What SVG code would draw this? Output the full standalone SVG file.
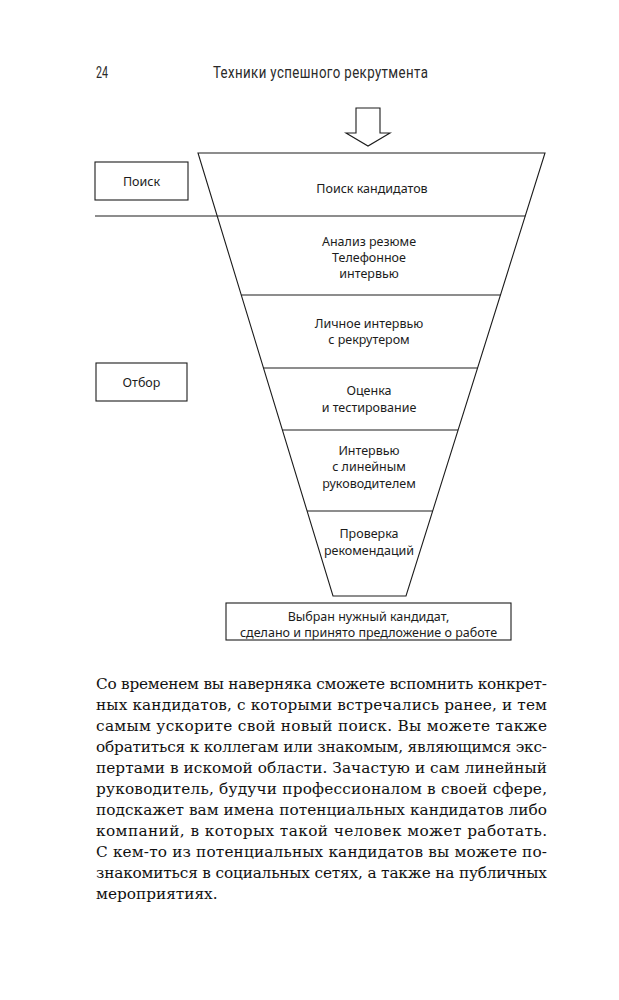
<svg xmlns="http://www.w3.org/2000/svg" width="619" height="1000" viewBox="0 0 619 1000">
<style>
.ln{fill:none;stroke:#1c1c1c;stroke-width:1.1}
.bx{fill:#fff;stroke:#1c1c1c;stroke-width:1.1}
.lb{font-family:"Noto Sans","Open Sans","DejaVu Sans",sans-serif;font-size:12.5px;fill:#1c1c1c;text-anchor:middle}
.hd{font-family:"Roboto","DejaVu Sans",sans-serif;font-size:17px;fill:#2a2a2a}
.bd{font-family:"DejaVu Serif","Liberation Serif",serif;font-size:15.3px;fill:#111}
</style>
<rect width="619" height="1000" fill="#fff"/>
<g id="header">
<text class="hd" transform="scale(0.78 1)" x="123" y="78" textLength="15.4" lengthAdjust="spacingAndGlyphs">24</text>
<text class="hd" transform="scale(0.78 1)" x="273" y="78" textLength="275.6" lengthAdjust="spacing">Техники успешного рекрутмента</text>
</g>
<g id="connectors">
<polygon class="ln" points="356,108 380,108 380,133 390,133 368,146 346,133 356,133"/>
<line class="ln" x1="95" y1="216" x2="525.2" y2="216"/>
</g>
<g id="funnel">
<polygon class="bx" points="198,153 545,153 406,596 333,596"/>
<line class="ln" x1="217.2" y1="216" x2="525.2" y2="216"/>
<line class="ln" x1="241.3" y1="295" x2="500.4" y2="295"/>
<line class="ln" x1="263.5" y1="368" x2="477.5" y2="368"/>
<line class="ln" x1="282.4" y1="430" x2="458.1" y2="430"/>
<line class="ln" x1="307.1" y1="511" x2="432.7" y2="511"/>
</g>
<g id="stage1"><text class="lb" x="372" y="193">Поиск кандидатов</text></g>
<g id="stage2"><text class="lb" x="369" y="246">Анализ резюме</text><text class="lb" x="369" y="262">Телефонное</text><text class="lb" x="369" y="278">интервью</text></g>
<g id="stage3"><text class="lb" x="369" y="328">Личное интервью</text><text class="lb" x="369" y="344">с рекрутером</text></g>
<g id="stage4"><text class="lb" x="369" y="395">Оценка</text><text class="lb" x="369" y="412">и тестирование</text></g>
<g id="stage5"><text class="lb" x="369" y="455">Интервью</text><text class="lb" x="369" y="471">с линейным</text><text class="lb" x="369" y="488">руководителем</text></g>
<g id="stage6"><text class="lb" x="369" y="538">Проверка</text><text class="lb" x="369" y="555">рекомендаций</text></g>
<g id="result">
<rect class="bx" x="226" y="603" width="285" height="37"/>
<text class="lb" x="368.5" y="621">Выбран нужный кандидат,</text>
<text class="lb" x="368.5" y="637">сделано и принято предложение о работе</text>
</g>
<g id="poisk">
<rect class="bx" x="95" y="162" width="93" height="38"/>
<text class="lb" x="141.5" y="186">Поиск</text>
</g>
<g id="otbor">
<rect class="bx" x="96" y="363" width="91" height="38"/>
<text class="lb" x="141.5" y="387">Отбор</text>
</g>
<g id="body">
<text class="bd" x="96" y="689" textLength="451" lengthAdjust="spacing">Со временем вы наверняка сможете вспомнить конкрет-</text>
<text class="bd" x="96" y="710" textLength="451" lengthAdjust="spacing">ных кандидатов, с которыми встречались ранее, и тем</text>
<text class="bd" x="96" y="731" textLength="451" lengthAdjust="spacing">самым ускорите свой новый поиск. Вы можете также</text>
<text class="bd" x="96" y="752" textLength="451" lengthAdjust="spacing">обратиться к коллегам или знакомым, являющимся экс-</text>
<text class="bd" x="96" y="773" textLength="451" lengthAdjust="spacing">пертами в искомой области. Зачастую и сам линейный</text>
<text class="bd" x="96" y="794" textLength="451" lengthAdjust="spacing">руководитель, будучи профессионалом в своей сфере,</text>
<text class="bd" x="96" y="815" textLength="451" lengthAdjust="spacing">подскажет вам имена потенциальных кандидатов либо</text>
<text class="bd" x="96" y="836" textLength="451" lengthAdjust="spacing">компаний, в которых такой человек может работать.</text>
<text class="bd" x="96" y="857" textLength="451" lengthAdjust="spacing">С кем-то из потенциальных кандидатов вы можете по-</text>
<text class="bd" x="96" y="878" textLength="451" lengthAdjust="spacing">знакомиться в социальных сетях, а также на публичных</text>
<text class="bd" x="96" y="899">мероприятиях.</text>
</g>
</svg>
